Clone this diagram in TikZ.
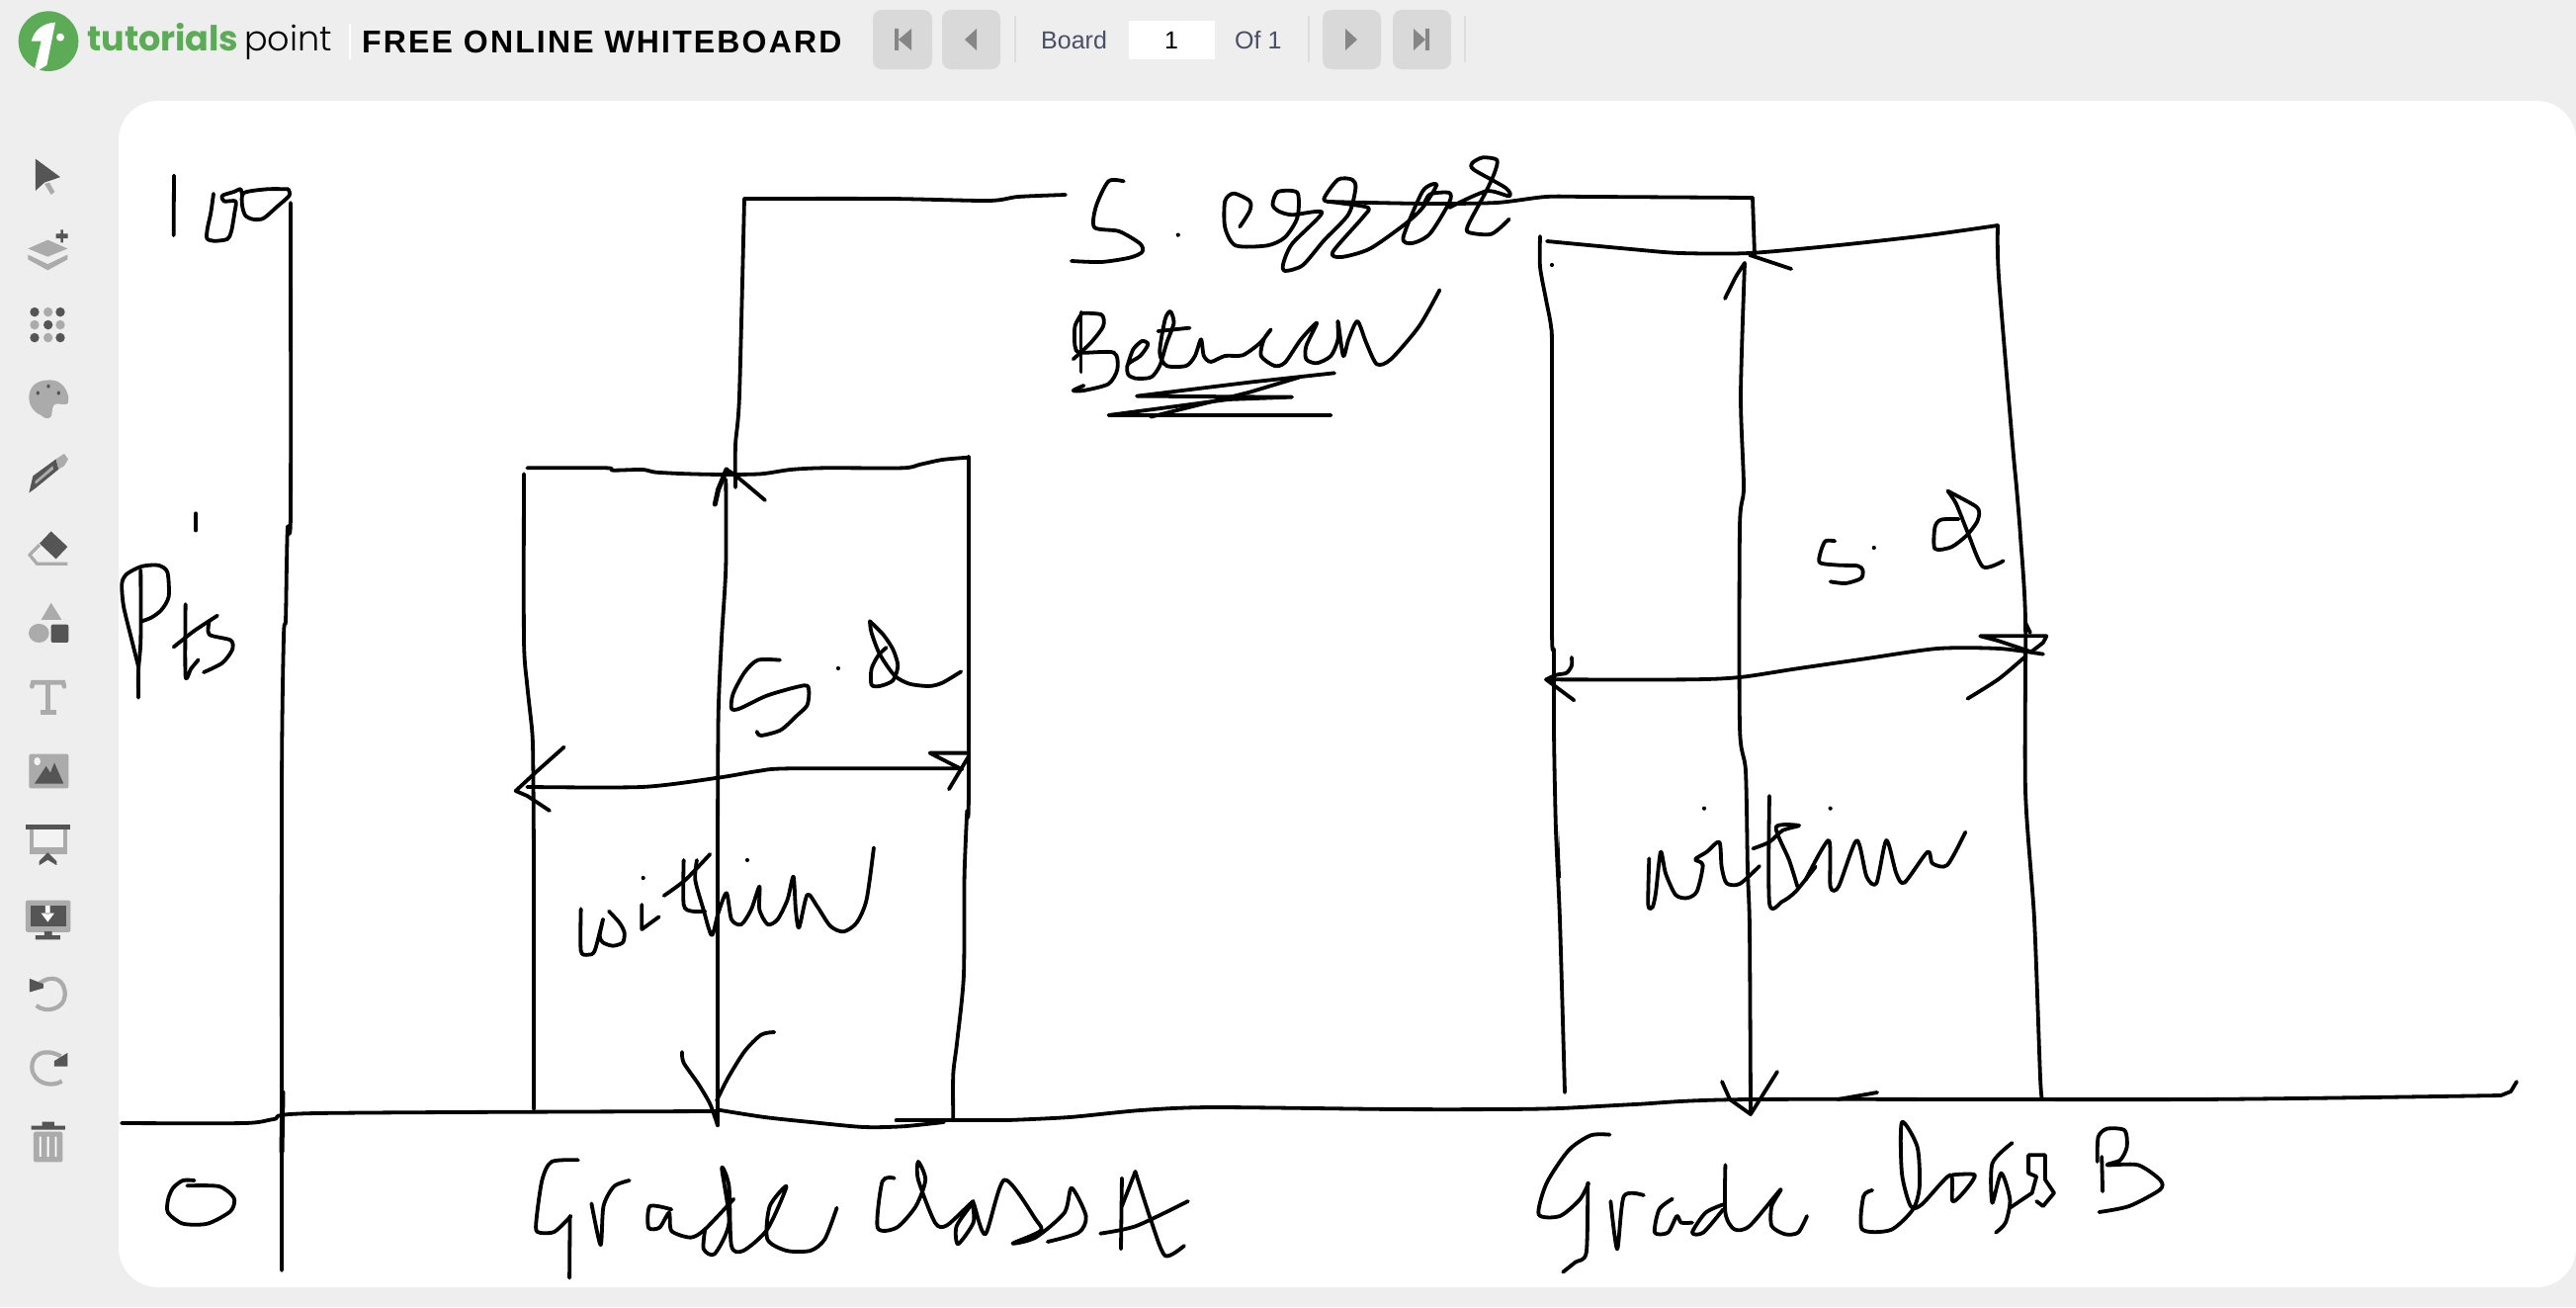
\documentclass[tikz,border=0pt]{standalone}
\usepackage{fontspec}
\setmainfont{Liberation Sans}
\newfontfamily\logofont{Poppins}
\newfontfamily\logolight{Poppins Light}
\newfontfamily\titlefont[LetterSpace=6.7]{Liberation Sans}

\definecolor{pagegray}{HTML}{EEEEEE}
\definecolor{btngray}{HTML}{D9D9D9}
\definecolor{btnicon}{HTML}{868686}
\definecolor{sepgray}{HTML}{DDDDDD}
\definecolor{logogreen}{HTML}{5CAB56}
\definecolor{boardtext}{HTML}{4A4F66}
\definecolor{icondark}{HTML}{555555}
\definecolor{iconlight}{HTML}{ABABAB}

\tikzset{
	ink/.style={line width=3.8pt, line cap=round, line join=round, black},
	crop/.style n args={4}{shift={(#1,#2)}, x=#3pt, y=-#4pt},
	btn/.style={fill=btngray, rounded corners=9pt},
	sep/.style={draw=sepgray, line width=1.5pt},
	bartext/.style={inner sep=0pt, anchor=base west, font=\fontsize{25}{25}\selectfont, text=boardtext},
	dk/.style={fill=icondark, draw=none},
	lt/.style={fill=iconlight, draw=none}
}
\newcommand{\hand}[1]{\draw[ink] plot[smooth, tension=0.45] coordinates {#1};}
\newcommand{\speck}[1]{\fill #1 circle (2.1pt);}

\begin{document}
\begin{tikzpicture}[x=1pt, y=-1pt]
	\useasboundingbox (0,0) rectangle (2606,1322);

	% Page and board
	\fill[pagegray] (0,0) rectangle (2606,1322);
	\fill[white, rounded corners=40pt] (120,102) rectangle (2606,1302);

	% Logo
	\begin{scope}[crop={0}{0}{0.3333}{0.3333}]
		\fill[logogreen] (147,125) circle (91);
		\fill[white] (168,68) .. controls (130,70) and (105,90) .. (95,125) -- (125,125) -- (106,205) -- (115,214) -- (142,198) -- cycle;
		\fill[white] (183,113) circle (12);
	\end{scope}
	\node[inner sep=0pt, anchor=base west, font=\fontsize{35}{35}\selectfont\logofont\bfseries, text=logogreen] (logotutorials) at (88,52) {tutorials};
	\node[inner sep=0pt, anchor=base west, font=\fontsize{35}{35}\selectfont\logolight] (logopoint) at (247,52) {point};
	\draw[white, line width=1.5pt] (354,24) -- (354,60);

	% Title
	\node[inner sep=0pt, anchor=base west, font=\fontsize{32}{32}\selectfont\titlefont\bfseries] (title) at (366,54) {FREE ONLINE WHITEBOARD};

	% Buttons
	\fill[btn] (883,10) rectangle (943,70);
	\fill[btn] (953,10) rectangle (1012,70);
	\fill[btn] (1338,10) rectangle (1397,70);
	\fill[btn] (1409,10) rectangle (1468,70);
	\fill[btnicon] (905,29) rectangle (909,51) (922,29) -- (922,51) -- (909,40) -- cycle;
	\fill[btnicon] (988,29) -- (988,51) -- (976,40) -- cycle;
	\fill[btnicon] (1361,29) -- (1361,51) -- (1373,40) -- cycle;
	\fill[btnicon] (1430,29) -- (1430,51) -- (1442,40) -- cycle (1442,29) rectangle (1446,51);
	\draw[sep] (1027,16) -- (1027,63);
	\draw[sep] (1324,16) -- (1324,63);
	\draw[sep] (1482,16) -- (1482,63);

	% Board counter
	\node[bartext] (boardlabel) at (1053,49) {Board};
	\fill[white] (1142,21) rectangle (1229,60);
	\node[bartext, text=black, anchor=base] (boardnum) at (1185,49) {1};
	\node[bartext] (boardof) at (1249,49) {Of 1};

	% Side icons
	\begin{scope}[crop={0}{130}{0.3333}{0.6824}]
		\fill[dk] (108,45) -- (183,72) -- (135,80) -- (108,92) -- cycle;
		\fill[lt] (135,82) -- (150,80) -- (166,94) -- (155,98) -- cycle;
		\fill[lt] (85,178) -- (145,165) -- (205,178) -- (145,190) -- cycle;
		\fill[lt] (85,187) -- (145,201) -- (205,187) -- (205,194) -- (145,210) -- (85,194) -- cycle;
		\fill[dk] (170,156) rectangle (206,163) (184,150) rectangle (192,169);
		\foreach \dotx/\doty/\dotcol in {105/272/dk,146/272/lt,183/272/dk,105/291/lt,146/291/dk,183/291/lt,105/310/dk,146/310/lt,183/310/dk}
			\fill[\dotcol] (\dotx,\doty) ellipse (14 and 7);
		\fill[lt] (88,398) .. controls (90,375) and (130,372) .. (160,373) .. controls (200,375) and (215,400) .. (205,408) .. controls (185,412) and (160,400) .. (158,420) .. controls (158,432) and (140,432) .. (125,425) .. controls (100,420) and (88,410) .. (88,398) -- cycle;
		\foreach \dotx/\doty in {115/392,147/382,178/392}
			\fill[dk] (\dotx,\doty) ellipse (5 and 3);
		\fill[dk] (88,540) -- (100,515) -- (170,490) -- (178,505) -- (108,533) -- cycle;
		\fill[lt] (170,490) -- (195,482) -- (207,490) -- (195,500) -- (178,505) -- cycle;
		\fill[lt] (106,523) -- (160,500) -- (162,505) -- (108,527) -- cycle;
		\fill[dk] (155,597) -- (205,620) -- (170,638) -- (120,615) -- cycle;
		\draw[iconlight, line width=3.2pt] (120,617) -- (90,632) -- (112,645) -- (205,645);
		\fill[lt] (155,703) -- (125,728) -- (187,728) -- cycle;
		\fill[lt] (118,748) ellipse (31 and 14);
		\fill[dk, rounded corners=2pt] (155,735) rectangle (208,762);
		\draw[iconlight, line width=4.6pt, line cap=round] (97,827) -- (100,821) -- (192,821) -- (195,827);
		\draw[iconlight, line width=4.6pt] (145,821) -- (145,865) (122,865) -- (170,865);
		\fill[lt, rounded corners=2pt] (88,927) rectangle (208,978);
		\fill[dk] (105,971) -- (140,945) -- (153,955) -- (165,940) -- (193,971) -- cycle;
		\fill[white!85!iconlight] (113,938) ellipse (10 and 6);
		\fill[dk] (78,1032) rectangle (214,1039);
		\fill[lt] (90,1039) rectangle (205,1076);
		\fill[white!85!iconlight] (103,1039) rectangle (192,1066);
		\fill[dk] (119,1086) -- (145,1073) -- (172,1086) -- (172,1092) -- (145,1084) -- (119,1092) -- cycle;
		\fill[lt, rounded corners=2pt] (78,1144) rectangle (214,1191);
		\fill[dk] (93,1152) rectangle (200,1183);
		\fill[white] (138,1152) rectangle (152,1164) (125,1163) -- (165,1163) -- (145,1176) -- cycle;
		\fill[dk] (135,1190) rectangle (158,1196) (108,1196) rectangle (183,1202);
		\draw[iconlight, line width=4.2pt] (112,1270) .. controls (160,1250) and (200,1262) .. (197,1285) .. controls (195,1305) and (140,1312) .. (110,1300);
		\fill[dk] (90,1260) -- (132,1268) -- (132,1274) -- (90,1280) -- cycle;
		\draw[iconlight, line width=4.2pt] (185,1375) .. controls (135,1362) and (95,1372) .. (97,1392) .. controls (100,1415) and (155,1422) .. (188,1412);
		\fill[dk] (205,1370) -- (205,1390) -- (165,1390) -- (165,1382) -- cycle;
		\fill[dk] (128,1472) rectangle (165,1478) (95,1478) rectangle (198,1484);
		\fill[lt, rounded corners=2pt] (102,1487) rectangle (190,1532);
		\fill[white] (120,1494) rectangle (125,1524) (143,1494) rectangle (149,1524) (167,1494) rectangle (172,1524);
	\end{scope}

	% Axes
	\hand{(294,205) (294,519) (291,533) (290,571) (289,628) (287,644) (285,800) (285,1285)}
	\draw[ink, line width=5pt] (286,1105) -- (285,1165);
	\hand{(123,1136) (247,1136) (277,1132) (320,1126) (725,1124)}
	\begin{scope}[crop={520}{820}{0.3333}{0.3333}]
		\hand{(620,908) (760,930) (900,945) (1060,960) (1180,958) (1305,945)}
		\hand{(1160,940) (1500,940)}
	\end{scope}
	\hand{(1020,1133) (1082,1130) (1154,1123) (1227,1120) (1413,1122) (1520,1122) (1578,1121) (1654,1117) (1770,1112) (2220,1112) (2530,1108)}
	\draw[ink] (2530,1108) -- (2540,1104) -- (2546,1094);
	\hand{(1859,1112) (1899,1105)}

	% Labels on the axis
	\begin{scope}[crop={110}{150}{0.3333}{0.3827}]
		\hand{(198,72) (197,230)}
		\hand{(318,120) (310,170) (300,210) (298,238) (320,245) (360,240) (372,220) (382,170) (385,140) (350,140) (345,125) (380,115) (400,108) (405,125)}
		\hand{(545,108) (480,108) (410,118) (405,150) (415,178) (440,188) (470,185) (510,155) (548,125) (545,108)}
		\hand{(264,965) (264,1010)}
		\hand{(97,1115) (97,1300) (90,1380) (90,1452)}
		\hand{(90,1370) (70,1300) (45,1210) (40,1150) (55,1125) (100,1105) (150,1102) (178,1120) (182,1185) (160,1220) (130,1240) (100,1250)}
		\hand{(233,1205) (233,1395) (250,1375) (272,1352)}
		\hand{(197,1318) (260,1275) (330,1235)}
		\hand{(305,1250) (305,1285) (370,1300) (375,1325) (345,1360) (288,1385)}
	\end{scope}
	\begin{scope}[crop={120}{1090}{0.3333}{0.3333}]
		\hand{(230,312) (195,312) (165,335) (150,370) (150,410) (195,443) (270,443) (340,405) (350,365) (305,330) (208,328)}
	\end{scope}

	% Grade class A box
	\begin{scope}[crop={500}{440}{0.3333}{0.3333}]
		\hand{(90,118) (90,620) (100,760) (115,900) (118,1000) (120,1320) (120,2046)}
		\hand{(100,100) (340,100) (360,107) (450,105) (490,113) (590,118) (700,120) (810,118) (900,105) (1000,100) (1240,100) (1290,90) (1360,75) (1440,68)}
		\hand{(1440,65) (1440,1080) (1436,1140)}
		\hand{(703,135) (703,400) (690,620) (680,860) (678,1320)}
		\draw[ink, line width=5pt] (670,210) -- (680,165) -- (705,105);
		\hand{(705,105) (735,125) (822,198)}
		\hand{(100,1068) (450,1068) (680,1040) (800,1020) (900,1012) (1420,1012)}
		\draw[ink] (212,947) -- (130,1020) -- (65,1080) -- (100,1095) -- (168,1140);
		\draw[ink] (1380,1075) -- (1440,975) (1440,965) -- (1322,965) -- (1420,1015);
		\hand{(867,683) (800,683) (760,720) (725,785) (720,830) (745,830) (830,790) (940,760) (955,775) (950,820) (920,850) (870,895) (810,912) (797,900)}
		\speck{(1044,708)}
		\hand{(1140,565) (1180,605) (1210,650) (1225,700) (1210,745) (1170,762) (1145,758) (1145,710) (1165,670) (1190,645)}
		\hand{(1140,565) (1145,600) (1170,665) (1215,730) (1260,755) (1320,762) (1360,752) (1417,718)}
	\end{scope}
	\begin{scope}[crop={520}{820}{0.3333}{0.3333}]
		\hand{(1375,0) (1367,200) (1365,500) (1345,700) (1333,800) (1333,935)}
		\hand{(618,0) (618,955)}
		\hand{(510,732) (515,765) (560,830) (595,890) (618,955)}
		\hand{(615,880) (650,810) (700,730) (750,680) (790,672)}
		\hand{(203,298) (203,425) (225,437) (245,425) (270,330) (260,380) (270,400) (300,410) (330,400) (335,370) (320,340) (288,305)}
		\speck{(392,204)}
		\draw[ink] (388,285) -- (388,360) -- (440,322);
		\hand{(515,150) (515,285) (540,305) (580,305)}
		\hand{(455,258) (520,210) (595,132)}
		\hand{(555,150) (550,210) (575,300) (600,378) (620,310) (645,250) (660,330) (690,345) (720,300) (745,230) (745,300) (770,345) (800,330) (830,270) (848,200) (855,300) (865,355) (890,255) (920,290) (960,350) (1000,367) (1040,340) (1070,270) (1092,112)}
		\speck{(708,150)}
	\end{scope}

	% Between stroke over the top
	\hand{(744,493) (744,450) (748,400) (753,201)}
	\hand{(753,201) (900,201) (1000,203) (1030,199) (1078,197)}
	\hand{(1343,204) (1443,206) (1514,205) (1564,199) (1610,199) (1773,200)}
	\draw[ink] (1773,200) -- (1775,258);

	% S. error and Between
	\begin{scope}[crop={1050}{130}{0.3571}{0.3333}]
		\hand{(243,160) (200,160) (165,235) (160,300) (230,312) (290,350) (295,375) (260,392) (180,405) (95,402)}
		\speck{(397,323)}
		\hand{(572,298) (600,250) (600,220) (555,197) (530,220) (530,300) (560,355) (650,355) (700,330) (735,270) (735,195) (680,192) (665,230) (680,250) (720,262) (805,255) (720,350) (695,410) (700,432) (750,415) (810,340) (880,260) (900,180) (890,155) (850,155) (810,215) (850,225) (935,240) (920,270) (835,375) (860,390) (940,365) (1040,290) (1090,240) (1130,170) (1090,190) (1035,330) (1060,348) (1110,320) (1165,225) (1165,195) (1110,200) (1090,240)}
		\hand{(1165,240) (1270,190) (1335,205) (1325,180) (1235,125) (1230,105) (1260,88) (1300,95) (1295,130) (1270,190) (1220,290) (1220,315) (1285,320) (1335,275)}
		\hand{(122,558) (122,738)}
		\hand{(125,560) (105,600) (105,660) (120,680) (215,680) (225,730) (200,775) (130,795) (100,795) (130,780)}
		\hand{(122,560) (180,565) (185,600) (150,650) (100,700)}
		\hand{(255,715) (270,670) (295,645) (312,655) (290,690) (255,715) (255,745) (275,758) (320,755) (345,720) (365,650) (385,590) (375,555) (360,580) (345,680) (365,720) (420,720) (445,690) (462,640) (470,690) (490,708) (530,690) (580,688) (630,650) (660,610) (640,640) (632,690) (670,720) (700,710) (745,640) (790,590) (760,660) (760,700) (790,712) (830,690) (850,640) (850,585) (865,690) (880,640) (905,585) (930,650) (960,715) (1000,700) (1080,600) (1138,490)}
		\hand{(340,615) (430,605)}
		\draw[ink] (840,742) -- (600,770) -- (280,812) -- (720,815) -- (540,822) -- (200,870) -- (830,870);
		\draw[ink] (320,875) -- (600,800) -- (740,755);
	\end{scope}

	% Grade class B box
	\hand{(1558,239) (1558,270) (1564,303) (1569,330) (1570,363) (1570,637) (1572,660) (1572,740) (1574,840) (1578,930) (1583,1105)}
	\fill (1577,840) -- (1579,888) -- (1575,888) -- cycle;
	\speck{(1570,268)}
	\hand{(1565,244) (1650,252) (1700,256) (1770,256) (1860,248) (1950,238) (2021,228)}
	\hand{(2021,228) (2022,280) (2036,450) (2040,493) (2044,543) (2049,627) (2049,800) (2058,930) (2064,1090) (2066,1112)}
	\hand{(1765,266) (1761,400) (1764,493) (1760,533) (1760,735) (1766,780) (1768,880) (1770,940) (1771,1127)}
	\hand{(1745,302) (1756,280) (1765,266)}
	\hand{(1770,258) (1812,272)}
	\draw[ink] (1742,1094) -- (1750,1112) -- (1771,1127) -- (1798,1084);
	\begin{scope}[crop={1540}{460}{0.3444}{0.3333}]
		\hand{(70,682) (490,682) (640,675) (800,650) (1000,620) (1220,588) (1400,588) (1530,605)}
		\hand{(145,615) (145,640) (130,662) (100,668) (70,682)}
		\draw[ink] (70,682) -- (152,745);
		\draw[ink] (1345,550) -- (1540,550) -- (1530,570) -- (1495,598) -- (1400,565) -- cycle;
		\hand{(1308,740) (1400,680) (1480,610)}
		\draw[ink] (1478,510) -- (1492,540);
		\hand{(918,262) (890,262) (875,300) (875,328) (930,335) (985,337) (1000,350) (995,375) (950,390) (905,385)}
		\speck{(1033,282)}
		\hand{(1282,195) (1230,197) (1212,220) (1212,285) (1260,280) (1305,245) (1335,205) (1342,175) (1330,155) (1250,110)}
		\hand{(1250,110) (1275,150) (1310,240) (1353,340) (1413,322)}
	\end{scope}
	\begin{scope}[crop={1640}{780}{0.3333}{0.3333}]
		\hand{(85,265) (82,405) (95,413) (105,370) (120,245) (135,310) (165,375) (200,385) (230,365) (248,285) (225,268) (260,245) (298,215) (305,290) (320,340) (360,342) (420,288)}
		\hand{(450,75) (450,400) (490,395) (530,365) (590,290)}
		\hand{(400,235) (450,215) (490,180) (540,165) (470,170) (510,270) (535,350)}
		\hand{(560,330) (630,210) (635,350) (660,350) (715,210) (745,320) (775,340) (805,210) (835,310) (860,338) (930,245) (945,280) (990,285) (1045,185)}
		\speck{(252,113)}
		\speck{(635,113)}
	\end{scope}

	% Grade class A
	\begin{scope}[crop={500}{1120}{0.4847}{0.3333}]
		\hand{(175,160) (120,165) (100,220) (88,340) (90,378) (125,378) (160,330)}
		\hand{(158,330) (157,518)}
		\hand{(203,292) (222,418) (228,300) (250,240) (282,222)}
		\hand{(370,310) (325,300) (322,365) (345,365) (365,320) (370,375) (410,395) (440,370) (500,278)}
		\hand{(440,370) (437,430) (460,445) (490,350) (475,185) (490,240) (495,420) (520,435) (570,370) (610,240) (575,300) (570,400) (610,435) (660,435) (690,400) (715,305)}
		\hand{(835,215) (810,225) (800,365) (840,365) (880,300) (900,220) (885,165) (885,220) (920,350) (945,358) (1000,285) (965,360) (968,415) (1000,350) (1000,290) (1025,385) (1065,220) (1130,340) (1140,375) (1082,413) (1130,395) (1190,320) (1205,245) (1235,330) (1220,380) (1155,408)}
		\hand{(1310,215) (1308,430)}
		\hand{(1338,195) (1370,340) (1400,450) (1440,420)}
		\draw[ink] (1310,300) -- (1338,195);
		\hand{(1265,383) (1340,360) (1448,285)}
	\end{scope}

	% Grade class B
	\begin{scope}[crop={1520}{1100}{0.4464}{0.3333}]
		\hand{(243,143) (200,145) (150,190) (100,290) (82,385) (130,390) (175,340) (195,290)}
		\hand{(193,290) (190,500) (165,530) (137,560)}
		\hand{(245,345) (260,490) (275,330) (320,327)}
		\hand{(385,338) (355,370) (345,440) (375,440) (395,390) (405,410) (430,410)}
		\hand{(500,355) (460,380) (430,440) (455,440) (500,370)}
		\hand{(505,235) (505,380) (525,430) (560,420) (630,310) (610,360) (610,420) (640,445) (670,440) (690,390)}
		\hand{(838,312) (818,330) (815,430) (880,432) (930,370) (945,300) (940,180) (905,105) (905,260) (925,360) (950,355) (1015,265) (1020,345) (1050,310) (1070,265) (1020,265)}
		\hand{(1155,168) (1110,230) (1110,350) (1130,260) (1150,340) (1140,410) (1118,440)}
		\draw[ink] (1150,365) -- (1200,320) -- (1210,270) -- (1192,260) -- (1192,205) -- (1230,205) -- (1230,280) -- (1250,320) -- (1225,360) -- (1210,345);
		\hand{(1358,210) (1360,315)}
		\hand{(1348,225) (1350,150) (1370,125) (1410,130) (1415,180) (1400,220) (1370,235) (1440,235) (1490,280) (1490,310) (1420,360) (1352,378)}
	\end{scope}
\end{tikzpicture}
\end{document}
